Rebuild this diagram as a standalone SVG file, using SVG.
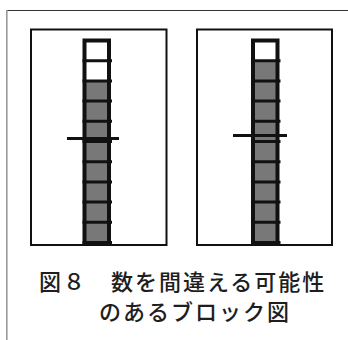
<svg xmlns="http://www.w3.org/2000/svg" width="348" height="340" viewBox="0 0 348 340">
  <style>
    .box { fill: #fff; stroke: #111; stroke-width: 2; }
    .gray { fill: #787878; }
    .white { fill: #fff; }
    .div { stroke: #111; stroke-width: 3; fill: none; }
    .side { stroke: #111; stroke-width: 4; fill: none; }
    .tick { stroke: #111; stroke-width: 3; fill: none; }
    .cap { font-family: "Noto Sans CJK JP", "Noto Sans CJK SC", sans-serif; font-size: 22px; font-weight: 500; letter-spacing: 2px; fill: #1e1e1e; }
  </style>
  <rect x="0" y="0" width="348" height="340" fill="#fff"/>
  <g id="frame">
    <line x1="6" y1="10.5" x2="348" y2="10.5" stroke="#333" stroke-width="1.2"/>
    <line x1="6.8" y1="10" x2="6.8" y2="340" stroke="#999" stroke-width="1.6"/>
  </g>
  <g id="panel-left">
    <rect class="box" x="31" y="29.5" width="135.5" height="215.5"/>
    <rect class="white" x="84.5" y="40.5" width="24.5" height="40.4"/>
    <rect class="gray" x="84.5" y="80.9" width="24.5" height="161.6"/>
    <path class="div" d="M82.5 60.7H112 M82.5 80.9H112 M82.5 101.1H112 M82.5 121.3H112 M82.5 141.5H112 M82.5 161.7H112 M82.5 181.9H112 M82.5 202.1H112 M82.5 222.3H112 M82.5 242.5H112"/>
    <path class="side" d="M84.5 245V38.5 M82.5 40.5H111 M109 38.5V245"/>
    <line class="tick" x1="67" y1="138.5" x2="119" y2="138.5"/>
  </g>
  <g id="panel-right">
    <rect class="box" x="197" y="29.5" width="135" height="215.5"/>
    <rect class="white" x="253" y="40.5" width="24.5" height="20.2"/>
    <rect class="gray" x="253" y="60.7" width="24.5" height="181.8"/>
    <path class="div" d="M251 60.7H280.5 M251 80.9H280.5 M251 101.1H280.5 M251 121.3H280.5 M251 141.5H280.5 M251 161.7H280.5 M251 181.9H280.5 M251 202.1H280.5 M251 222.3H280.5 M251 242.5H280.5"/>
    <path class="side" d="M253 245V38.5 M251 40.5H279.5 M277.5 38.5V245"/>
    <line class="tick" x1="233" y1="135.5" x2="287" y2="135.5"/>
  </g>
  <g id="caption">
    <text class="cap" x="39" y="290">図８　数を間違える可能性</text>
    <text class="cap" x="99" y="320">のあるブロック図</text>
  </g>
</svg>
